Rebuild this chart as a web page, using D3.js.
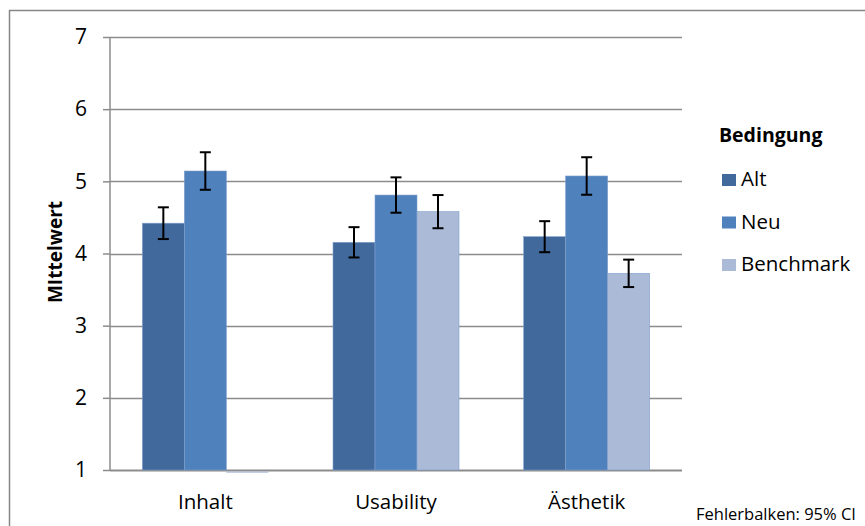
<!DOCTYPE html>
<html><head><meta charset="utf-8">
<script src="https://cdn.jsdelivr.net/npm/d3@7"></script>
<style>body{margin:0;background:#fff}svg{display:block}text{font-family:"Open Sans",sans-serif}</style>
</head><body><svg id="c" width="865" height="526"></svg>
<script>
const categories = ["Inhalt", "Usability", "Ästhetik"];
const seriesNames = ["Alt", "Neu", "Benchmark"];
const altValues = [4.42, 4.155, 4.233];
const neuValues = [5.143, 4.81, 5.074];
const benchmarkValues = [1.0, 4.58, 3.725];
const altErr = [0.22, 0.21, 0.215];
const neuErr = [0.26, 0.245, 0.26];
const benchmarkErr = [null, 0.23, 0.19];
const yTicks = [1, 2, 3, 4, 5, 6, 7];
const colors = ["#41699c", "#4f81bd", "#aabad7"];

const svg = d3.select("#c");
const m = {l: 110, r: 682, t: 37, b: 470};
svg.append("rect").attr("x", 9.5).attr("y", 10.5).attr("width", 870).attr("height", 530)
  .attr("fill", "none").attr("stroke", "#868686").attr("stroke-width", 1.5);

const y = d3.scaleLinear().domain([1, 7]).range([m.b, m.t]);
const x0 = d3.scaleBand().domain(categories).range([m.l, m.r]).paddingInner(64.7/190.7).paddingOuter(64.7/190.7/2);
const x1 = d3.scaleBand().domain(seriesNames).range([0, x0.bandwidth()]);

// gridlines
svg.append("g").selectAll("line").data(yTicks.filter(d => d > 1)).join("line")
  .attr("x1", m.l).attr("x2", m.r).attr("y1", d => Math.round(y(d)) + 0.5).attr("y2", d => Math.round(y(d)) + 0.5)
  .attr("stroke", "#8c8c8c").attr("stroke-width", 1.5);

const values = [altValues, neuValues, benchmarkValues];
const errs = [altErr, neuErr, benchmarkErr];
const rows = [];
categories.forEach((c, i) => seriesNames.forEach((s, j) => rows.push({c, s, j, v: values[j][i], e: errs[j][i]})));

// y axis lines
const yAxis = d3.axisLeft(y).tickValues(yTicks).tickSize(7).tickPadding(16).tickFormat(d3.format("d"));
const ga = svg.append("g").attr("transform", `translate(${m.l},0)`).call(yAxis);
ga.select(".domain").remove();
ga.selectAll(".tick line").attr("stroke", "#8c8c8c").attr("stroke-width", 1.5);
ga.selectAll(".tick text").attr("font-size", 21).attr("fill", "#000").attr("font-family", "'Open Sans',sans-serif");
svg.append("line").attr("x1", m.l).attr("x2", m.l).attr("y1", m.t).attr("y2", m.b + 1)
  .attr("stroke", "#8c8c8c").attr("stroke-width", 1.5);
svg.append("line").attr("x1", m.l).attr("x2", m.r).attr("y1", m.b + 0.5).attr("y2", m.b + 0.5)
  .attr("stroke", "#8c8c8c").attr("stroke-width", 2);

// bars (zero-height bar drawn as thin line just under baseline)
svg.append("g").selectAll("rect").data(rows).join("rect")
  .attr("x", d => x0(d.c) + x1(d.s))
  .attr("width", x1.bandwidth())
  .attr("y", d => d.v > 1 ? y(d.v) : y(1) + 1.5)
  .attr("height", d => d.v > 1 ? y(1) - y(d.v) : 1.2)
  .attr("fill", d => colors[d.j])
  .attr("stroke", d => d.v > 1 ? "#7f9fcc" : "none").attr("stroke-width", 0.6);

// error bars
const eg = svg.append("g").selectAll("g").data(rows.filter(d => d.e != null)).join("g")
  .attr("stroke", "#000").attr("stroke-width", 2);
eg.append("line").attr("x1", d => x0(d.c) + x1(d.s) + x1.bandwidth()/2).attr("x2", d => x0(d.c) + x1(d.s) + x1.bandwidth()/2)
  .attr("y1", d => y(d.v + d.e)).attr("y2", d => y(d.v - d.e));
[1, -1].forEach(sg => {
  eg.append("line").attr("x1", d => x0(d.c) + x1(d.s) + x1.bandwidth()/2 - 5.5).attr("x2", d => x0(d.c) + x1(d.s) + x1.bandwidth()/2 + 5.5)
    .attr("y1", d => y(d.v + sg*d.e)).attr("y2", d => y(d.v + sg*d.e));
});

// x labels
svg.append("g").selectAll("text").data(categories).join("text")
  .attr("x", d => x0(d) + x0.bandwidth()/2).attr("y", 509).attr("text-anchor", "middle")
  .attr("font-size", 20.5).text(d => d);

// y title
svg.append("text").attr("transform", "translate(62,252) rotate(-90)").attr("text-anchor", "middle")
  .attr("font-size", 19).attr("font-weight", "bold").text("MIttelwert");

// legend
svg.append("text").attr("x", 719).attr("y", 142).attr("font-size", 19.5).attr("font-weight", "bold").text("Bedingung");
const lg = svg.append("g").selectAll("g").data(seriesNames).join("g")
  .attr("transform", (d, i) => `translate(722,${174 + i*42.5})`);
lg.append("rect").attr("width", 14).attr("height", 12).attr("fill", (d, i) => colors[i]);
lg.append("text").attr("x", 19).attr("y", 12).attr("font-size", 20.5).text(d => d);

svg.append("text").attr("x", 696).attr("y", 520).attr("font-size", 16.5).text("Fehlerbalken: 95% CI");
</script></body></html>
